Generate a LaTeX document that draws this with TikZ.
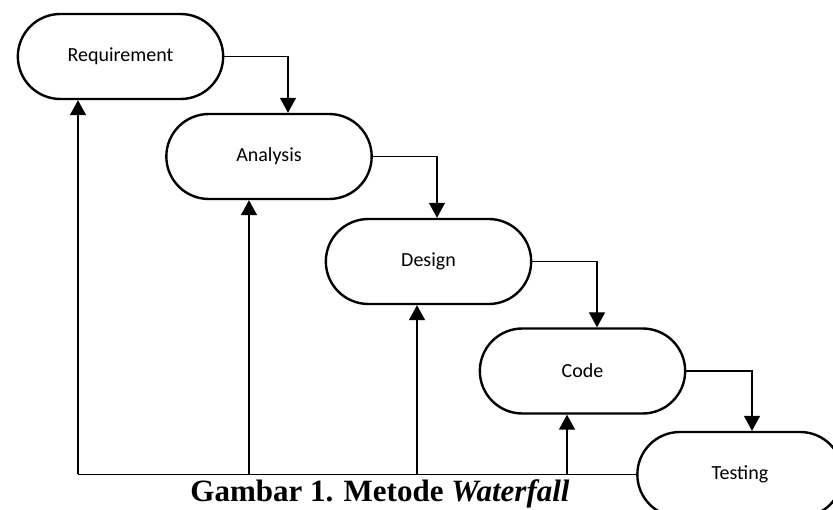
\documentclass[tikz,border=0pt]{standalone}
\usepackage{fontspec}
\setmainfont{Liberation Serif}
\newfontfamily\boxfont{Carlito}
\usetikzlibrary{positioning}
\usetikzlibrary{calc}
\usetikzlibrary{shapes.misc}
\usetikzlibrary{arrows.meta}
\tikzset{phase/.style={rounded rectangle, draw, line width=2.4pt, minimum width=212pt, minimum height=85pt, font=\boxfont\fontsize{20}{24}\selectfont}}
\tikzset{flow/.style={line width=1.4pt, -{Triangle[width=16pt,length=15pt]}}}

\begin{document}
\begin{tikzpicture}[x=1pt, y=-1pt]
\useasboundingbox (0,0) rectangle (833,510);
\node[phase] (req) at (120.5,56.5) {Requirement};
\node[phase] (ana) at (269,156.5) {Analysis};
\node[phase] (des) at (428.5,261.5) {Design};
\node[phase] (cod) at (582.5,371) {Code};
\node[phase] (tes) at (740,474.5) {Testing};
%
\coordinate (back) at (78,474.5);
\coordinate (f2) at (249,474.5);
\coordinate (f3) at (417,474.5);
\coordinate (f4) at (567,474.5);

\draw[flow] (req.east) -| ([xshift=19pt]ana.north);
\draw[flow] (ana.east) -| ([xshift=8.5pt]des.north);
\draw[flow] (des.east) -| ([xshift=14.5pt]cod.north);
\draw[flow] (cod.east) -| ([xshift=12pt]tes.north);
\draw[line width=1.4pt] (tes.west) -- (back);
\draw[flow] (back) -- (back |- req.south);
\draw[flow] (f2) -- (f2 |- ana.south);
\draw[flow] (f3) -- (f3 |- des.south);
\draw[flow] (f4) -- (f4 |- cod.south);

\node[anchor=base, inner sep=0pt, font=\fontsize{31}{36}\selectfont\bfseries] (cap) at (380,501) {Gambar 1. Metode \textit{Waterfall}};
\end{tikzpicture}
\end{document}
